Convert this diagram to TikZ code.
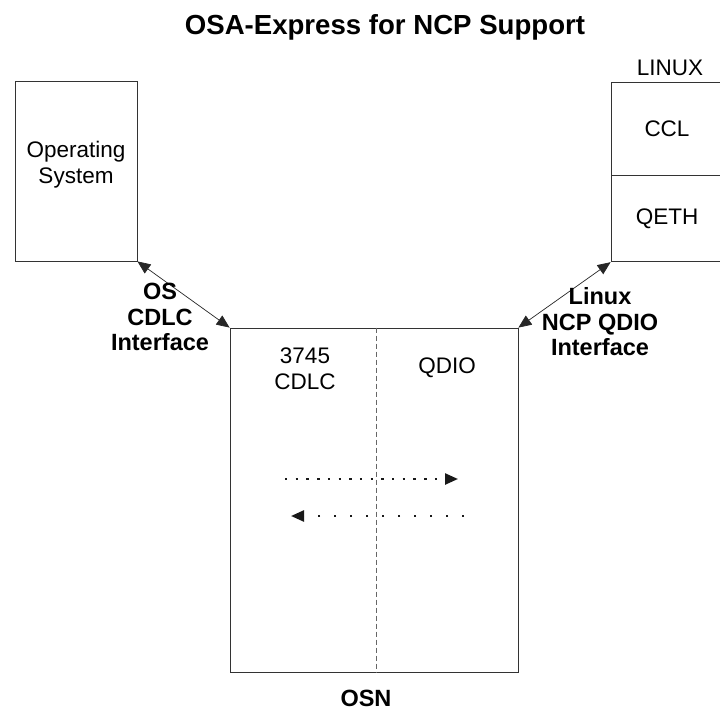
\documentclass[tikz,border=0pt]{standalone}
\usepackage{fontspec}
\setmainfont{Liberation Sans}
\usetikzlibrary{arrows.meta, positioning}

\begin{document}
\begin{tikzpicture}[x=1pt, y=-1pt,
        >={Triangle[length=13pt, width=11pt]}]

        % Setup the styles for the boxes and texts
        \tikzset{box style/.style={draw=black!80,
                                   line width=0.8pt,
                                   rectangle,
                                   inner sep=0pt,
                                   font=\fontsize{22.5}{26}\selectfont},
                 plain text/.style={inner sep=0pt,
                                    align=center,
                                    font=\fontsize{22.5}{26}\selectfont},
                 bold text/.style={inner sep=0pt,
                                   align=center,
                                   font=\fontsize{23.5}{25.5}\selectfont\bfseries},
                 link/.style={draw=black!85,
                              line width=0.7pt},
                 flow/.style={draw=black!90,
                              line width=2.4pt}}

        \useasboundingbox (0, 0) rectangle (720, 711);

        % Title
        \node[inner sep=0pt, anchor=base,
              font=\fontsize{27.6}{30}\selectfont\bfseries] at (385, 35) (title)
              {OSA-Express for NCP Support};

        % Draw the boxes
        \node[box style, minimum width=122pt, minimum height=180pt] at (76, 171) (os) {};
        \node[plain text] at (76, 165) (ostext) {Operating\\System};

        \node[box style, minimum width=112pt, minimum height=93pt] at (667, 128.5) (ccl) {CCL};
        \node[box style, minimum width=112pt, minimum height=86pt, below=0pt of ccl] (qeth) {QETH};
        \node[plain text] at (670, 68) (linux) {LINUX};

        \node[box style, minimum width=288pt, minimum height=344pt] at (374, 500) (osn) {};
        \node[plain text] at (305, 369) (cdlc) {3745\\CDLC};
        \node[plain text] at (447, 368) (qdio) {QDIO};
        \node[bold text, anchor=base] at (366, 706) (osnlabel) {OSN};

        % Divider inside the OSN box
        \draw[draw=black!60, line width=0.8pt, dash pattern=on 5pt off 3pt]
            ([xshift=2pt]osn.north) -- ([xshift=2pt]osn.south);

        % Interfaces
        \draw[link, <->] (os.south east) -- (osn.north west);
        \draw[link, <->] (qeth.south west) -- (osn.north east);
        \node[bold text] at (160, 317) (oslink) {OS\\CDLC\\Interface};
        \node[bold text] at (600, 322) (linuxlink) {Linux\\NCP QDIO\\Interface};

        % Data flow through the OSN
        \coordinate (r1) at (285, 479);
        \coordinate (r2) at (458, 479);
        \coordinate (l1) at (464, 516);
        \coordinate (l2) at (291, 516);
        \draw[flow, dash pattern=on 2.4pt off 8.3pt, ->] (r1) -- (r2);
        \draw[flow, dash pattern=on 2.4pt off 13.6pt, ->] (l1) -- (l2);
    \end{tikzpicture}
\end{document}
